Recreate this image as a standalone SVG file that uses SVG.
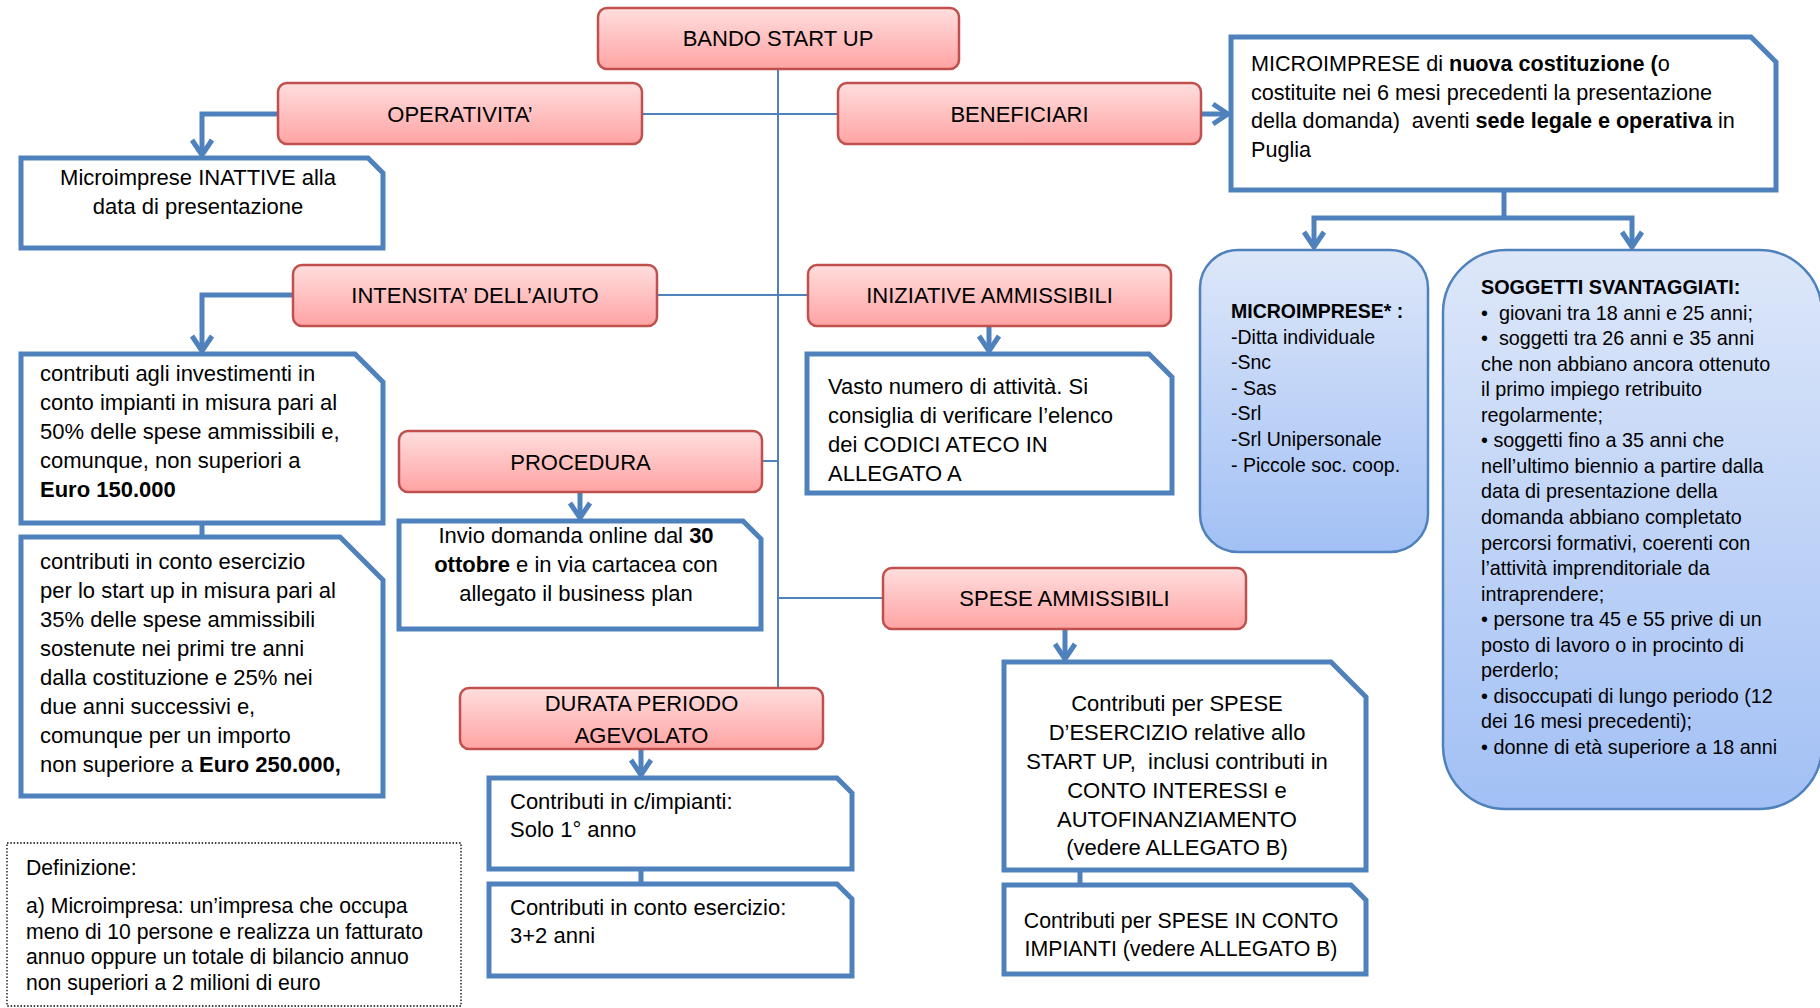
<svg xmlns="http://www.w3.org/2000/svg" width="1820" height="1008" viewBox="0 0 1820 1008">
<defs>
<linearGradient id="gRed" x1="0" y1="0" x2="0" y2="1">
<stop offset="0" stop-color="#FFDEDE"/>
<stop offset="1" stop-color="#FFA3A3"/>
</linearGradient>
<linearGradient id="gBlue" x1="0" y1="0" x2="0" y2="1">
<stop offset="0" stop-color="#DDE7F9"/>
<stop offset="1" stop-color="#A2C0F5"/>
</linearGradient>
<marker id="ch" viewBox="-2 -13 24 26" refX="18" refY="0" markerWidth="24" markerHeight="26" markerUnits="userSpaceOnUse" orient="auto">
<path d="M3,-10 L18,0 L3,10" fill="none" stroke="#4F81BD" stroke-width="5"/>
</marker>
<style>
text{font-family:"Liberation Sans",Arial,sans-serif;fill:#000}
.red{fill:url(#gRed);stroke:#C0504D;stroke-width:2.5}
.blue{fill:url(#gBlue);stroke:#4F81BD;stroke-width:2.5}
.note{fill:#fff;stroke:#4F81BD;stroke-width:5;stroke-linejoin:miter}
.thick{fill:none;stroke:#4F81BD;stroke-width:5}
.thin{fill:none;stroke:#4F81BD;stroke-width:2}
.t{font-size:22px;text-anchor:middle}
.b{font-size:22px}
.b2{font-size:21.6px}
.b3{font-size:21.3px}
.c{text-anchor:middle}
.s{font-size:19.8px}
.m{font-size:19.5px}
.d{font-size:21.2px}
.bo{font-weight:bold}
</style>
</defs>

<g id="connectors">
<path class="thin" d="M778,69 V688"/>
<path class="thin" d="M642,114 H838"/>
<path class="thin" d="M657,295 H808"/>
<path class="thin" d="M762,461 H778"/>
<path class="thin" d="M778,598 H883"/>
<path class="thick" d="M278,114 H202 V155" marker-end="url(#ch)"/>
<path class="thick" d="M1201,114 H1228" marker-end="url(#ch)"/>
<path class="thick" d="M1504,190 V218"/>
<path class="thick" d="M1504,218 H1314 V247" marker-end="url(#ch)"/>
<path class="thick" d="M1504,218 H1632 V247" marker-end="url(#ch)"/>
<path class="thick" d="M293,295 H202 V351" marker-end="url(#ch)"/>
<path class="thick" d="M202,523 V537"/>
<path class="thick" d="M989,326 V351" marker-end="url(#ch)"/>
<path class="thick" d="M580,492 V518" marker-end="url(#ch)"/>
<path class="thick" d="M1065,629 V659" marker-end="url(#ch)"/>
<path class="thick" d="M641,749 V775" marker-end="url(#ch)"/>
<path class="thick" d="M641,869 V884"/>
<path class="thick" d="M1080,870 V885"/>
</g>

<g id="bando">
<rect class="red" x="598" y="8" width="361" height="61" rx="9"/>
<text class="t" x="778" y="46">BANDO START UP</text>
</g>

<g id="operativita">
<rect class="red" x="278" y="83" width="364" height="61" rx="9"/>
<text class="t" x="460" y="121.5">OPERATIVITA’</text>
</g>

<g id="beneficiari">
<rect class="red" x="838" y="83" width="363" height="61" rx="9"/>
<text class="t" x="1019.5" y="121.5">BENEFICIARI</text>
</g>

<g id="intensita">
<rect class="red" x="293" y="265" width="364" height="61" rx="9"/>
<text class="t" x="475" y="303">INTENSITA’ DELL’AIUTO</text>
</g>

<g id="iniziative">
<rect class="red" x="808" y="265" width="363" height="61" rx="9"/>
<text class="t" x="989.5" y="303">INIZIATIVE AMMISSIBILI</text>
</g>

<g id="procedura">
<rect class="red" x="399" y="431" width="363" height="61" rx="9"/>
<text class="t" x="580.5" y="470">PROCEDURA</text>
</g>

<g id="spese">
<rect class="red" x="883" y="568" width="363" height="61" rx="9"/>
<text class="t" x="1064.5" y="606">SPESE AMMISSIBILI</text>
</g>

<g id="durata">
<rect class="red" x="460" y="688" width="363" height="61" rx="9"/>
<text class="t" x="641.5" y="711">DURATA PERIODO</text>
<text class="t" x="641.5" y="742.5">AGEVOLATO</text>
</g>

<g id="inattive">
<path class="note" d="M21,158 H368 L383,173 V248 H21 Z"/>
<text class="b c" x="198" y="185">Microimprese INATTIVE alla</text>
<text class="b c" x="198" y="214">data di presentazione</text>
</g>

<g id="nuova-costituzione">
<path class="note" d="M1231,37 H1751 L1776,62 V190 H1231 Z"/>
<text class="b2" x="1251" y="71" xml:space="preserve">MICROIMPRESE di <tspan class="bo">nuova costituzione (</tspan>o</text>
<text class="b2" x="1251" y="100">costituite nei 6 mesi precedenti la presentazione</text>
<text class="b2" x="1251" y="128" xml:space="preserve">della domanda)  aventi <tspan class="bo">sede legale e operativa</tspan> in</text>
<text class="b2" x="1251" y="157">Puglia</text>
</g>

<g id="microimprese-tipi">
<rect class="blue" x="1200" y="250" width="228" height="302" rx="38"/>
<text class="m" x="1231" y="318"><tspan class="bo">MICROIMPRESE* :</tspan>
<tspan x="1231" dy="25.6">-Ditta individuale</tspan>
<tspan x="1231" dy="25.6">-Snc</tspan>
<tspan x="1231" dy="25.6" xml:space="preserve">- Sas</tspan>
<tspan x="1231" dy="25.6">-Srl</tspan>
<tspan x="1231" dy="25.6">-Srl Unipersonale</tspan>
<tspan x="1231" dy="25.6" xml:space="preserve">- Piccole soc. coop.</tspan></text>
</g>

<g id="soggetti">
<rect class="blue" x="1443" y="250" width="379" height="559" rx="63"/>
<text class="s" x="1481" y="294" xml:space="preserve"><tspan class="bo">SOGGETTI SVANTAGGIATI:</tspan><tspan x="1481" dy="25.55">•  giovani tra 18 anni e 25 anni;</tspan><tspan x="1481" dy="25.55">•  soggetti tra 26 anni e 35 anni</tspan><tspan x="1481" dy="25.55">che non abbiano ancora ottenuto</tspan><tspan x="1481" dy="25.55">il primo impiego retribuito</tspan><tspan x="1481" dy="25.55">regolarmente;</tspan><tspan x="1481" dy="25.55">• soggetti fino a 35 anni che</tspan><tspan x="1481" dy="25.55">nell’ultimo biennio a partire dalla</tspan><tspan x="1481" dy="25.55">data di presentazione della</tspan><tspan x="1481" dy="25.55">domanda abbiano completato</tspan><tspan x="1481" dy="25.55">percorsi formativi, coerenti con</tspan><tspan x="1481" dy="25.55">l’attività imprenditoriale da</tspan><tspan x="1481" dy="25.55">intraprendere;</tspan><tspan x="1481" dy="25.55">• persone tra 45 e 55 prive di un</tspan><tspan x="1481" dy="25.55">posto di lavoro o in procinto di</tspan><tspan x="1481" dy="25.55">perderlo;</tspan><tspan x="1481" dy="25.55">• disoccupati di lungo periodo (12</tspan><tspan x="1481" dy="25.55">dei 16 mesi precedenti);</tspan><tspan x="1481" dy="25.55">• donne di età superiore a 18 anni</tspan></text>
</g>

<g id="investimenti">
<path class="note" d="M21,354 H355 L383,382 V523 H21 Z"/>
<text class="b" x="40" y="381">contributi agli investimenti in
<tspan x="40" dy="29">conto impianti in misura pari al</tspan>
<tspan x="40" dy="29">50% delle spese ammissibili e,</tspan>
<tspan x="40" dy="29">comunque, non superiori a</tspan>
<tspan x="40" dy="29" class="bo">Euro 150.000</tspan></text>
</g>

<g id="esercizio">
<path class="note" d="M21,537 H340 L383,580 V796 H21 Z"/>
<text class="b" x="40" y="569">contributi in conto esercizio
<tspan x="40" dy="29">per lo start up in misura pari al</tspan>
<tspan x="40" dy="29">35% delle spese ammissibili</tspan>
<tspan x="40" dy="29">sostenute nei primi tre anni</tspan>
<tspan x="40" dy="29">dalla costituzione e 25% nei</tspan>
<tspan x="40" dy="29">due anni successivi e,</tspan>
<tspan x="40" dy="29">comunque per un importo</tspan>
<tspan x="40" dy="29">non superiore a <tspan class="bo">Euro 250.000,</tspan></tspan></text>
</g>

<g id="invio">
<path class="note" d="M399,521 H743 L761,539 V629 H399 Z"/>
<text class="b c" x="576" y="543">Invio domanda online dal <tspan class="bo">30</tspan></text>
<text class="b c" x="576" y="572"><tspan class="bo">ottobre</tspan> e in via cartacea con</text>
<text class="b c" x="576" y="601">allegato il business plan</text>
</g>

<g id="ateco">
<path class="note" d="M807,354 H1149 L1172,377 V493 H807 Z"/>
<text class="b" x="828" y="394">Vasto numero di attività. Si
<tspan x="828" dy="29">consiglia di verificare l’elenco</tspan>
<tspan x="828" dy="29">dei CODICI ATECO IN</tspan>
<tspan x="828" dy="29">ALLEGATO A</tspan></text>
</g>

<g id="impianti-durata">
<path class="note" d="M489,778 H837 L852,793 V869 H489 Z"/>
<text class="b" x="510" y="809">Contributi in c/impianti:
<tspan x="510" dy="28">Solo 1° anno</tspan></text>
</g>

<g id="esercizio-durata">
<path class="note" d="M489,884 H837 L852,899 V976 H489 Z"/>
<text class="b" x="510" y="915">Contributi in conto esercizio:
<tspan x="510" dy="28">3+2 anni</tspan></text>
</g>

<g id="spese-esercizio">
<path class="note" d="M1004,662 H1331 L1366,697 V870 H1004 Z"/>
<text class="b c" x="1177" y="711" xml:space="preserve">Contributi per SPESE<tspan x="1177" dy="29">D’ESERCIZIO relative allo</tspan><tspan x="1177" dy="29">START UP,  inclusi contributi in</tspan><tspan x="1177" dy="29">CONTO INTERESSI e</tspan><tspan x="1177" dy="28.5">AUTOFINANZIAMENTO</tspan><tspan x="1177" dy="28.5">(vedere ALLEGATO B)</tspan></text>
</g>

<g id="spese-impianti">
<path class="note" d="M1004,885 H1351 L1366,900 V974 H1004 Z"/>
<text class="b3 c" x="1181" y="928">Contributi per SPESE IN CONTO</text>
<text class="b3 c" x="1181" y="956">IMPIANTI (vedere ALLEGATO B)</text>
</g>

<g id="definizione">
<rect x="7" y="843" width="454" height="163" fill="#fff" stroke="#000" stroke-width="1.3" stroke-dasharray="1.5,1.8"/>
<text class="d" x="26" y="875">Definizione:</text>
<text class="d" x="26" y="913">a) Microimpresa: un’impresa che occupa
<tspan x="26" dy="25.5">meno di 10 persone e realizza un fatturato</tspan>
<tspan x="26" dy="25.5">annuo oppure un totale di bilancio annuo</tspan>
<tspan x="26" dy="25.5">non superiori a 2 milioni di euro</tspan></text>
</g>
</svg>
